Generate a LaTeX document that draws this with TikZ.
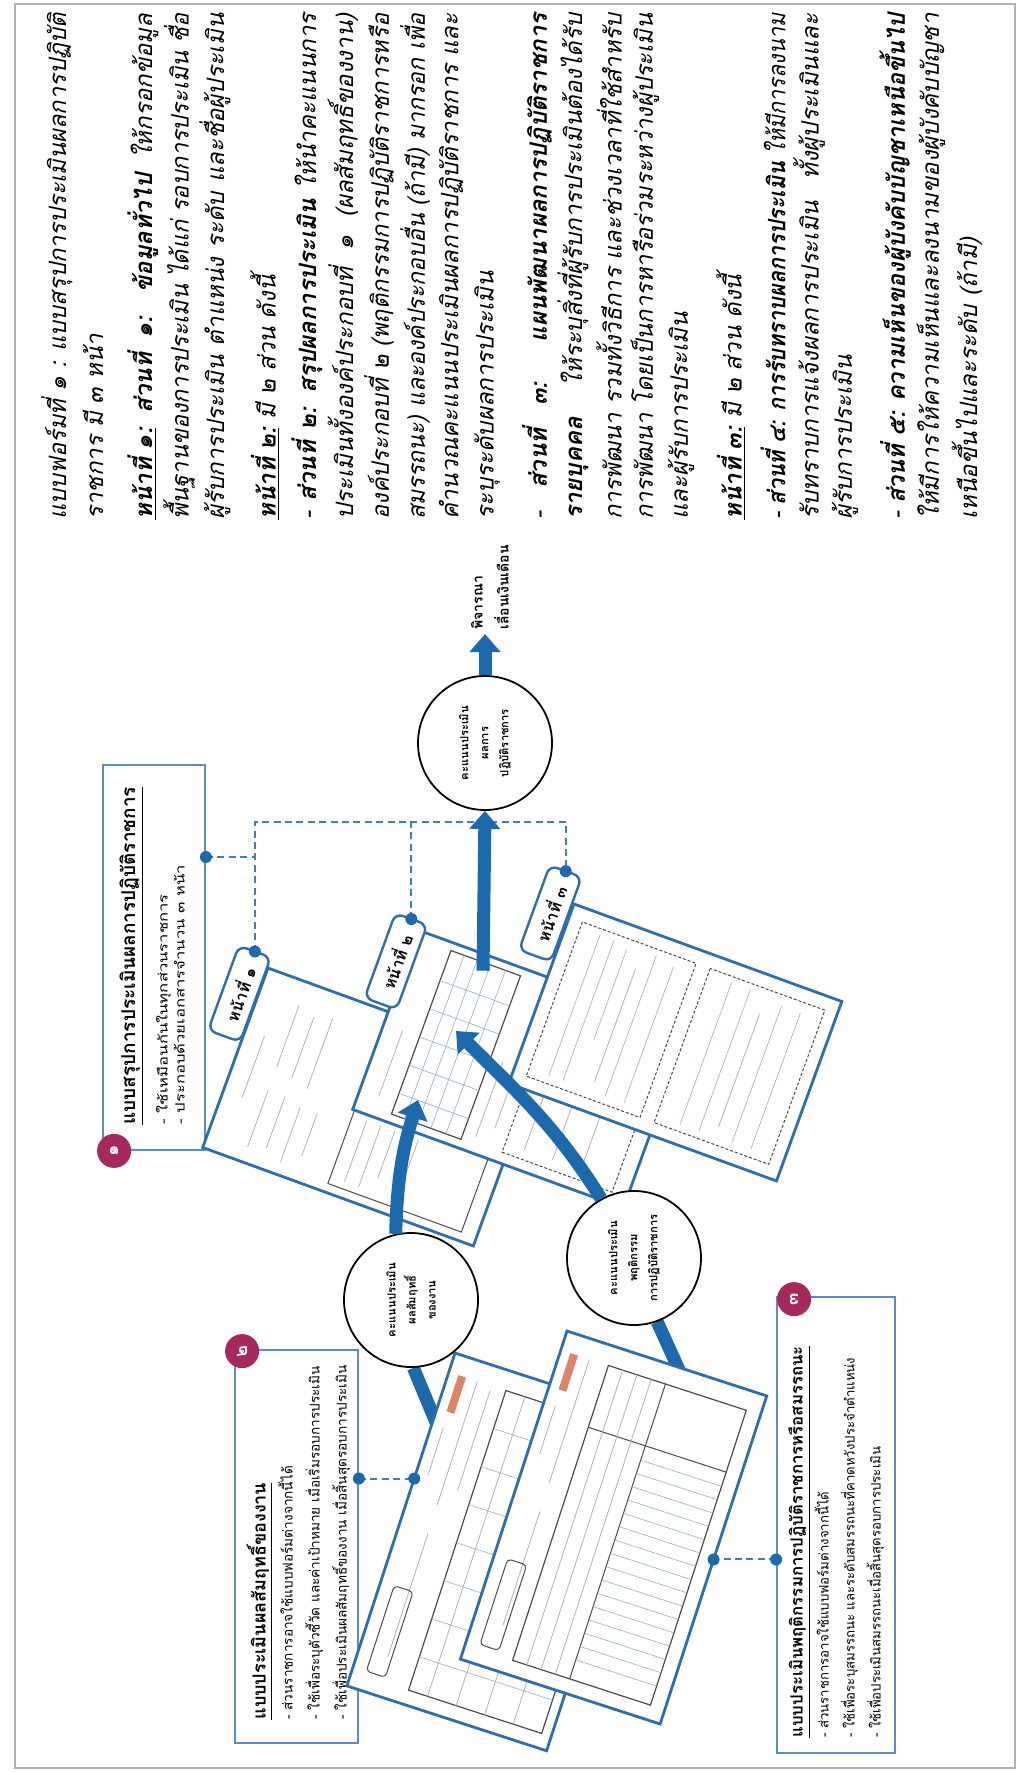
\documentclass[tikz,border=0pt]{standalone}
\usepackage{fontspec}
\usepackage{graphicx}
\newfontfamily\thaifont[Script=Thai]{Loma}
\newfontfamily\thaiwide[Script=Thai,FakeStretch=1.3]{Loma}
\usetikzlibrary{arrows.meta,calc}
\definecolor{pageblue}{HTML}{2F6DB3}
\definecolor{boxblue}{HTML}{5A8CCF}
\definecolor{flowblue}{HTML}{1B6AAE}
\definecolor{badgered}{HTML}{A52A5B}
\definecolor{chip}{HTML}{DE8466}
\newsavebox\linebox
\newcommand{\jline}[1]{\sbox\linebox{#1}\ifdim\wd\linebox>253pt\resizebox{253pt}{\height}{\usebox\linebox}\else\makebox[253pt][s]{#1}\fi}
\pgfdeclarelayer{behind}
\pgfsetlayers{behind,main}

\begin{document}
\begin{tikzpicture}[x=0.5pt,y=-0.5pt,
    tline/.style={rotate=90,anchor=west,inner sep=0pt,font=\thaifont\itshape\fontsize{12}{14}\selectfont},
    infobox/.style={rotate=90,draw=boxblue,line width=0.9pt,fill=white,inner sep=0pt},
    boxtext/.style={rotate=90,anchor=north west,align=left,inner sep=0pt,font=\thaifont\fontsize{6.6}{13}\selectfont},
    badge/.style={circle,fill=badgered,text=white,minimum size=17pt,inner sep=0pt,rotate=90,font=\thaifont\bfseries\fontsize{9}{9}\selectfont},
    score/.style={circle,draw,line width=0.9pt,fill=white,minimum size=67pt,inner sep=0pt,align=center,rotate=90,font=\thaifont\bfseries\fontsize{5.6}{10}\selectfont},
    linkdot/.style={circle,fill=flowblue,minimum size=6pt,inner sep=0pt},
    pagelink/.style={flowblue!85,line width=1pt,dash pattern=on 3.5pt off 2.2pt},
    flow/.style={flowblue,line width=6.5pt,-{Triangle[width=15pt,length=9pt]}},
    feed/.style={flowblue,line width=6.5pt},
    sheetpage/.style={draw=pageblue,line width=1.4pt,fill=white},
    pagetab/.style={draw=pageblue,line width=1.2pt,fill=white,rounded corners=4pt,minimum width=45pt,minimum height=17pt,inner sep=0pt,rotate=70,font=\thaifont\bfseries\fontsize{8}{8}\selectfont},
    faint/.style={gray!60,line width=0.4pt},
    formgrid/.style={pageblue!55,line width=0.3pt},
    dashbox/.style={black!70,line width=0.5pt,dash pattern=on 1.5pt off 1pt}]

\useasboundingbox (0,0) rectangle (1019,1772);
\draw[gray!60,line width=0.6pt] (15,4) rectangle (1015,1768);

\node[tline] (l1) at (57,520) {\jline{แบบฟอร์มที่ ๑ : แบบสรุปการประเมินผลการปฏิบัติ}};
\node[tline] (l2) at (93,520) {ราชการ มี ๓ หน้า};
\node[tline] (l3) at (143,520) {\jline{\underline{\textbf{หน้าที่ ๑:}} \textbf{ส่วนที่ ๑:} \textbf{ข้อมูลทั่วไป} ให้กรอกข้อมูล}};
\node[tline] (l4) at (179,520) {\jline{พื้นฐานของการประเมิน ได้แก่ รอบการประเมิน ชื่อ}};
\node[tline] (l5) at (215,520) {\jline{ผู้รับการประเมิน ตำแหน่ง ระดับ และชื่อผู้ประเมิน}};
\node[tline] (l6) at (265,520) {\underline{\textbf{หน้าที่ ๒:}} มี ๒ ส่วน ดังนี้};
\node[tline] (l7) at (307,520) {\jline{- \textbf{ส่วนที่ ๒: สรุปผลการประเมิน} ให้นำคะแนนการ}};
\node[tline] (l8) at (343,520) {\jline{ประเมินทั้งองค์ประกอบที่ ๑ (ผลสัมฤทธิ์ของงาน)}};
\node[tline] (l9) at (379,520) {\jline{องค์ประกอบที่ ๒ (พฤติกรรมการปฏิบัติราชการหรือ}};
\node[tline] (l10) at (415,520) {\jline{สมรรถนะ) และองค์ประกอบอื่น (ถ้ามี) มากรอก เพื่อ}};
\node[tline] (l11) at (451,520) {\jline{คำนวณคะแนนประเมินผลการปฏิบัติราชการ และ}};
\node[tline] (l12) at (487,520) {ระบุระดับผลการประเมิน};
\node[tline] (l13) at (537,520) {\jline{- \textbf{ส่วนที่ ๓: แผนพัฒนาผลการปฏิบัติราชการ}}};
\node[tline] (l14) at (573,520) {\jline{\textbf{รายบุคคล} ให้ระบุสิ่งที่ผู้รับการประเมินต้องได้รับ}};
\node[tline] (l15) at (609,520) {\jline{การพัฒนา รวมทั้งวิธีการ และช่วงเวลาที่ใช้สำหรับ}};
\node[tline] (l16) at (645,520) {\jline{การพัฒนา โดยเป็นการหารือร่วมระหว่างผู้ประเมิน}};
\node[tline] (l17) at (681,520) {และผู้รับการประเมิน};
\node[tline] (l18) at (731,520) {\underline{\textbf{หน้าที่ ๓:}} มี ๒ ส่วน ดังนี้};
\node[tline] (l19) at (773,520) {\jline{- \textbf{ส่วนที่ ๔: การรับทราบผลการประเมิน} ให้มีการลงนาม}};
\node[tline] (l20) at (809,520) {\jline{รับทราบการแจ้งผลการประเมิน ทั้งผู้ประเมินและ}};
\node[tline] (l21) at (845,520) {ผู้รับการประเมิน};
\node[tline] (l22) at (895,520) {\jline{- \textbf{ส่วนที่ ๕: ความเห็นของผู้บังคับบัญชาเหนือขึ้นไป}}};
\node[tline] (l23) at (931,520) {\jline{ให้มีการให้ความเห็นและลงนามของผู้บังคับบัญชา}};
\node[tline] (l24) at (967,520) {เหนือขึ้นไปและระดับ (ถ้ามี)};

\node[infobox,minimum width=192.5pt,minimum height=51pt] (b1) at (154,957.5) {};
\node[boxtext,font=\thaiwide\fontsize{6.4}{8.5}\selectfont] (b1t) at ($(b1.north west)+(17,-26)$)
  {{\thaifont\bfseries\fontsize{9.5}{9.5}\selectfont\underline{แบบสรุปการประเมินผลการปฏิบัติราชการ}}\\[5pt]
   - ใช้เหมือนกันในทุกส่วนราชการ\\
   - ประกอบด้วยเอกสารจำนวน ๓ หน้า};
\node[badge] (n1) at ($(b1.north west)+(12,0)$) {๑};

\node[infobox,minimum width=196.5pt,minimum height=61.5pt] (b2) at (296.5,1546.5) {};
\node[boxtext,font=\thaifont\fontsize{6.8}{13.5}\selectfont] (b2t) at ($(b2.north west)+(12,-24)$)
  {{\bfseries\fontsize{9}{9}\selectfont\underline{แบบประเมินผลสัมฤทธิ์ของงาน}}\\
   - ส่วนราชการอาจใช้แบบฟอร์มต่างจากนี้ได้\\
   - ใช้เพื่อระบุตัวชี้วัด และค่าเป้าหมาย เมื่อเริ่มรอบการประเมิน\\
   - ใช้เพื่อประเมินผลสัมฤทธิ์ของงาน เมื่อสิ้นสุดรอบการประเมิน};
\node[badge] (n2) at ($(b2.north east)+(8,2)$) {๒};

\node[infobox,minimum width=228pt,minimum height=59pt] (b3) at (836,1525) {};
\node[boxtext] (b3t) at ($(b3.north west)+(12,-16)$)
  {{\bfseries\fontsize{8.4}{8.4}\selectfont\underline{แบบประเมินพฤติกรรมการปฏิบัติราชการหรือสมรรถนะ}}\\
   - ส่วนราชการอาจใช้แบบฟอร์มต่างจากนี้ได้\\
   - ใช้เพื่อระบุสมรรถนะ และระดับสมรรถนะที่คาดหวังประจำตำแหน่ง\\
   - ใช้เพื่อประเมินสมรรถนะเมื่อสิ้นสุดรอบการประเมิน};
\node[badge] (n3) at ($(b3.north east)+(18,3)$) {๓};

\begin{scope}[shift={(268,968)},rotate=-20]
  \draw[sheetpage] (0,0) rectangle (288,191);
  \draw[faint] (20,65) -- (20,130) (42,25) -- (42,90) (42,115) -- (42,175) (60,30) -- (60,95)
    (60,115) -- (60,170) (78,25) -- (78,100) (78,120) -- (78,178) (96,120) -- (96,165);
  \draw[black!70,line width=0.5pt] (130,100) rectangle (272,182);
  \draw[faint] (145,110) -- (145,175) (160,110) -- (160,175) (175,110) -- (175,160) (200,110) -- (200,175);
  \draw[formgrid] (225,15) -- (225,90) (245,15) -- (245,90) (265,15) -- (265,90);
  \node[pagetab] (tab1) at (-18,34) {หน้าที่ ๑};
  \coordinate (tab1dot) at (-18,-11);
\end{scope}

\begin{scope}[shift={(418,930)},rotate=-20]
  \draw[sheetpage] (0,0) rectangle (288,191);
  \draw[black!70,line width=0.6pt] (38,8) rectangle (112,182);
  \draw[formgrid] (52,8) -- (52,182) (66,8) -- (66,182) (80,8) -- (80,182) (96,8) -- (96,182)
    (38,40) -- (112,40) (38,70) -- (112,70) (38,100) -- (112,100) (38,130) -- (112,130) (38,160) -- (112,160);
  \draw[faint] (20,100) -- (20,170) (125,95) -- (125,175) (140,95) -- (140,160);
  \draw[dashbox] (155,90) rectangle (272,180);
  \draw[dashbox] (155,10) rectangle (272,80);
  \draw[faint] (175,20) -- (175,70) (195,20) -- (195,70) (175,100) -- (175,170) (205,100) -- (205,170)
    (235,100) -- (235,170);
  \node[pagetab] (tab2) at (-10,37) {หน้าที่ ๒};
  \coordinate (tab2dot) at (-10,-8);
  \coordinate (sumtab) at (75,16);
\end{scope}

\begin{scope}[shift={(574,904)},rotate=-20]
  \draw[sheetpage] (0,0) rectangle (285,191);
  \draw[dashbox] (14,14) rectangle (135,178);
  \draw[dashbox] (150,14) rectangle (272,178);
  \draw[formgrid] (35,20) -- (35,170) (50,20) -- (50,170) (65,25) -- (65,120) (95,20) -- (95,170)
    (115,25) -- (115,170) (175,20) -- (175,170) (195,20) -- (195,170) (230,25) -- (230,170) (250,25) -- (250,170);
  \draw[faint] (80,40) -- (80,160) (212,40) -- (212,160);
  \node[pagetab] (tab3) at (-19,17) {หน้าที่ ๓};
  \coordinate (tab3dot) at (-19,-28);
\end{scope}

\begin{scope}[shift={(455,1353)},rotate=-18]
  \draw[sheetpage] (0,0) rectangle (210,350);
  \fill[chip] (10,20) rectangle (18,58);
  \draw[faint] (12,75) -- (12,125) (30,20) -- (30,150) (30,180) -- (30,310) (45,25) -- (45,130);
  \draw[black!70,line width=0.5pt,rounded corners=2pt] (14,240) rectangle (34,330);
  \draw[black!70,line width=0.6pt] (60,20) rectangle (200,335);
  \foreach \r in {60,100,...,300} \draw[formgrid] (60,\r) -- (200,\r);
  \foreach \c in {80,110,140,170} \draw[faint] (\c,20) -- (\c,335);
  \coordinate (f2dot) at (0,132);
\end{scope}

\begin{scope}[shift={(567,1331)},rotate=-18]
  \draw[sheetpage] (0,0) rectangle (210,345);
  \fill[chip] (10,20) rectangle (18,58);
  \draw[faint] (12,75) -- (12,125) (30,20) -- (30,150) (30,180) -- (30,300);
  \draw[black!70,line width=0.5pt,rounded corners=2pt] (14,235) rectangle (34,325);
  \draw[black!70,line width=0.6pt] (50,20) rectangle (195,330);
  \draw[black!70,line width=0.5pt] (50,85) -- (195,85) (110,20) -- (110,330);
  \foreach \r in {100,114,...,320} \draw[formgrid] (110,\r) -- (195,\r);
  \foreach \c in {65,80,95} \draw[faint] (\c,20) -- (\c,330);
  \coordinate (f3dot) at (210,172);
\end{scope}

\coordinate (bus) at (0,822);
\coordinate (b1y) at (0,857);
\draw[pagelink] (b1.south |- b1y) -- (tab1dot |- b1y);
\draw[pagelink] (tab1dot) -- (tab1dot |- bus) -- (tab3dot |- bus) -- (tab3dot);
\draw[pagelink] (tab2dot) -- (tab2dot |- bus);
\draw[pagelink] (b2.south |- f2dot) -- (f2dot);
\draw[pagelink] (b3.north |- f3dot) -- (f3dot);
\foreach \p in {tab1dot,tab2dot,tab3dot,f2dot,f3dot} \node[linkdot] at (\p) {};
\node[linkdot] at (b1.south |- b1y) {};
\node[linkdot] at (b2.south |- f2dot) {};
\node[linkdot] at (b3.north |- f3dot) {};

\node[score] (work) at (411,1300) {คะแนนประเมิน\\ผลสัมฤทธิ์\\ของงาน};
\node[score] (behave) at (634,1258) {คะแนนประเมิน\\พฤติกรรม\\การปฏิบัติราชการ};
\node[score] (overall) at (485,743) {คะแนนประเมิน\\ผลการ\\ปฏิบัติราชการ};
\node[rotate=90,anchor=west,align=left,inner sep=0pt,font=\thaifont\bfseries\fontsize{7}{13}\selectfont] (consider) at (490,630) {พิจารณา\\เลื่อนเงินเดือน};

\coordinate (f2in) at (440,1432);
\coordinate (f3in) at (680,1372);
\coordinate (w2in) at (418,1100);
\coordinate (b2in) at (456,1031);
\begin{pgfonlayer}{behind}
  \draw[feed] (work.182) -- (f2in);
  \draw[feed] (behave.200) -- (f3in);
\end{pgfonlayer}
\draw[flow] (work.13) to[bend left=8] (w2in);
\draw[flow] (behave.29) to[out=122,in=-45] (b2in);
\draw[flow] (sumtab) -- (overall.west);
\draw[flow,shorten >=2pt] (overall.east) -- (consider.west -| overall.east);
\end{tikzpicture}
\end{document}
